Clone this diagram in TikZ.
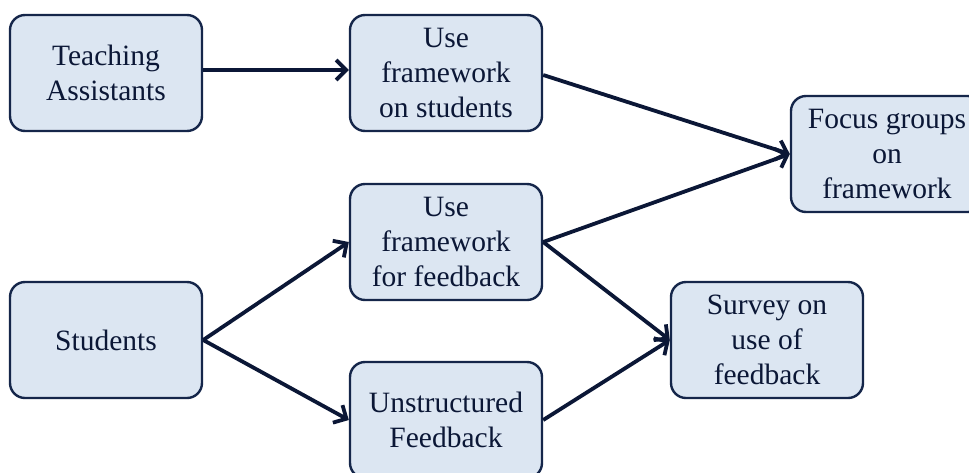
\documentclass[tikz,border=0pt]{standalone}
\usepackage{fontspec}
\setmainfont{Liberation Serif}
\usetikzlibrary{arrows.meta}
\definecolor{ink}{HTML}{0B1736}
\definecolor{boxfill}{HTML}{DCE6F2}
\definecolor{boxline}{HTML}{15264A}
\begin{document}
\begin{tikzpicture}[x=1pt,y=-1pt,
  stage/.style={draw=boxline, line width=2.4pt, fill=boxfill, rounded corners=15pt,
    minimum width=192pt, minimum height=116pt, inner sep=0pt, align=center,
    text=ink, font=\fontsize{29.5}{35}\selectfont},
  flow/.style={draw=ink, line width=3.8pt, -{Straight Barb[length=10pt,width=20pt]}}]
\useasboundingbox (0,0) rectangle (969,472);
\clip (0,0) rectangle (969,472);
\node[stage] (ta)   at (106,73)  {Teaching\\Assistants};
\node[stage] (ufs)  at (446,73)  {Use\\framework\\on students};
\node[stage] (foc)  at (887,154) {Focus groups\\on\\framework};
\node[stage] (uff)  at (446,242) {Use\\framework\\for feedback};
\node[stage] (stu)  at (106,340) {Students};
\node[stage] (sur)  at (767,340) {Survey on\\use of\\feedback};
\node[stage] (uns)  at (446,420) {Unstructured\\Feedback};
\draw[flow] ([yshift=3pt]ta.east) -- ([yshift=3pt]ufs.west);
\draw[flow] ([yshift=-2pt]ufs.east) -- (foc.west);
\draw[flow] (uff.east) -- (foc.west);
\draw[flow] (uff.east) -- (sur.west);
\draw[flow] (stu.east) -- (uff.west);
\draw[flow] (stu.east) -- (uns.west);
\draw[flow] (uns.east) -- (sur.west);
\end{tikzpicture}
\end{document}
